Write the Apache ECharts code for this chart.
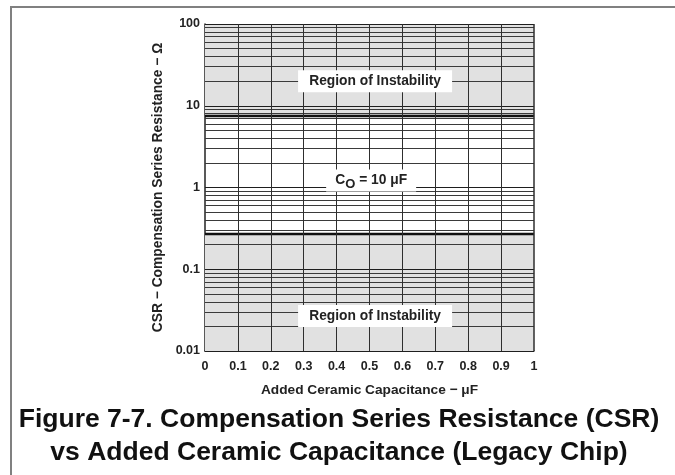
<!DOCTYPE html>
<html>
<head>
<meta charset="utf-8">
<script src="https://cdn.jsdelivr.net/npm/echarts@6/dist/echarts.min.js"></script>
<style>
html,body{margin:0;padding:0;background:#fff;}
#chart{width:675px;height:475px;}
</style>
</head>
<body>
<div id="chart"></div>
<script>
// ---- data ----
var xTickLabels = ['0','0.1','0.2','0.3','0.4','0.5','0.6','0.7','0.8','0.9','1'];
var xGridValues = [0.1,0.2,0.3,0.4,0.5,0.6,0.7,0.8,0.9,1];
var yTickValues = [0.01, 0.1, 1, 10, 100];
var yTickLabels = ['0.01','0.1','1','10','100'];
var upperBoundary = [[0, 7.5], [1, 7.5]];   // CSR upper stability limit (Ω)
var lowerBoundary = [[0, 0.27], [1, 0.27]]; // CSR lower stability limit (Ω)
var yMinorGrid = [0.02,0.03,0.04,0.05,0.06,0.07,0.08,0.09,
                  0.2,0.3,0.4,0.5,0.6,0.7,0.8,0.9,
                  2,3,4,5,6,7,8,9,
                  20,30,40,50,60,70,80,90];
var annotations = [
  {name:'Region of Instability', coord:[0.517, 20], w:154, h:22},
  {name:'CO', coord:[0.505, 1.22], w:90, h:22},
  {name:'Region of Instability', coord:[0.517, 0.0268], w:154, h:22}
];

var FONT = '"Liberation Sans", Arial, Helvetica, sans-serif';
var chart = echarts.init(document.getElementById('chart'), null, {renderer:'canvas'});

var option = {
  backgroundColor: '#ffffff',
  animation: false,
  grid: {left: 205, right: 141, top: 24, bottom: 124},
  xAxis: {
    type: 'value', min: 0, max: 1, interval: 0.1,
    name: 'Added Ceramic Capacitance − μF',
    nameLocation: 'middle', nameGap: 32,
    nameTextStyle: {fontFamily: FONT, fontWeight: 'bold', fontSize: 13.7, color: '#222'},
    axisLine: {show: true, onZero: false, lineStyle: {color: '#222', width: 1.5}},
    axisTick: {show: false},
    axisLabel: {
      fontFamily: FONT, fontWeight: 'bold', fontSize: 12.5, color: '#222', margin: 9,
      formatter: function (v) { return xTickLabels[Math.round(v * 10)]; }
    },
    splitLine: {show: false}
  },
  yAxis: {
    type: 'log', logBase: 10, min: 0.01, max: 100,
    name: 'CSR − Compensation Series Resistance − Ω',
    nameLocation: 'middle', nameGap: 40,
    nameTextStyle: {fontFamily: FONT, fontWeight: 'bold', fontSize: 13.8, color: '#222'},
    axisLine: {show: true, lineStyle: {color: '#222', width: 1.5}},
    axisTick: {show: false},
    axisLabel: {
      fontFamily: FONT, fontWeight: 'bold', fontSize: 12.5, color: '#222', margin: 5,
      formatter: function (v) {
        for (var i = 0; i < yTickValues.length; i++) {
          if (Math.abs(Math.log10(v) - Math.log10(yTickValues[i])) < 1e-6) return yTickLabels[i];
        }
        return '';
      }
    },
    splitLine: {show: false}
  },
  series: [
    {
      name: 'regions', type: 'line', data: [], z: 1, silent: true,
      markArea: {
        silent: true,
        itemStyle: {color: '#e1e1e1'},
        data: [
          [{yAxis: upperBoundary[0][1], xAxis: 0}, {yAxis: 100, xAxis: 1}],
          [{yAxis: 0.01, xAxis: 0}, {yAxis: lowerBoundary[0][1], xAxis: 1}]
        ]
      }
    },
    {
      name: 'grid', type: 'line', data: [], z: 3, silent: true,
      markLine: {
        silent: true, symbol: ['none','none'], label: {show: false},
        lineStyle: {color: '#3a3a3a', width: 1, type: 'solid'},
        data: yMinorGrid.map(function (v) { return {yAxis: v}; })
          .concat(yTickValues.map(function (v) { return {yAxis: v, lineStyle: {color: '#1e1e1e', width: 1.2}}; }))
          .concat(xGridValues.map(function (v) { return {xAxis: v, lineStyle: {color: '#2e2e2e', width: v === 1 ? 1.5 : 1}}; }))
      }
    },
    {
      name: 'upper', type: 'line', data: upperBoundary, symbol: 'none', z: 4,
      lineStyle: {color: '#111', width: 2.5}
    },
    {
      name: 'lower', type: 'line', data: lowerBoundary, symbol: 'none', z: 4,
      lineStyle: {color: '#111', width: 2.5}
    },
    {
      name: 'labels', type: 'scatter', data: [], z: 10,
      markPoint: {
        silent: true,
        data: annotations.map(function (a) {
          var isCO = a.name === 'CO';
          return {
            coord: a.coord, symbol: 'rect', symbolSize: [a.w, a.h],
            itemStyle: {color: '#ffffff'},
            label: {
              show: true, position: 'inside',
              formatter: isCO ? '{a|C}{s|O}{a| = 10 μF}' : a.name,
              fontFamily: FONT, fontWeight: 'bold', fontSize: 13.8, color: '#222',
              rich: {
                a: {fontFamily: FONT, fontWeight: 'bold', fontSize: 13.8, color: '#222'},
                s: {fontFamily: FONT, fontWeight: 'bold', fontSize: 13, color: '#222', padding: [7, 0, 0, 0]}
              }
            }
          };
        })
      }
    }
  ],
  graphic: [
    {type: 'line', shape: {x1: 10, y1: 7, x2: 675, y2: 7}, style: {stroke: '#808080', lineWidth: 2}},
    {type: 'line', shape: {x1: 11, y1: 7, x2: 11, y2: 475}, style: {stroke: '#808080', lineWidth: 2}},
    {type: 'text', x: 339, y: 420, style: {
      text: 'Figure 7-7. Compensation Series Resistance (CSR)', textAlign: 'center', textVerticalAlign: 'middle',
      fontFamily: FONT, fontWeight: 'bold', fontSize: 26.5, fill: '#111'}},
    {type: 'text', x: 339, y: 453, style: {
      text: 'vs Added Ceramic Capacitance (Legacy Chip)', textAlign: 'center', textVerticalAlign: 'middle',
      fontFamily: FONT, fontWeight: 'bold', fontSize: 26.5, fill: '#111'}}
  ]
};
chart.setOption(option);
</script>
</body>
</html>
